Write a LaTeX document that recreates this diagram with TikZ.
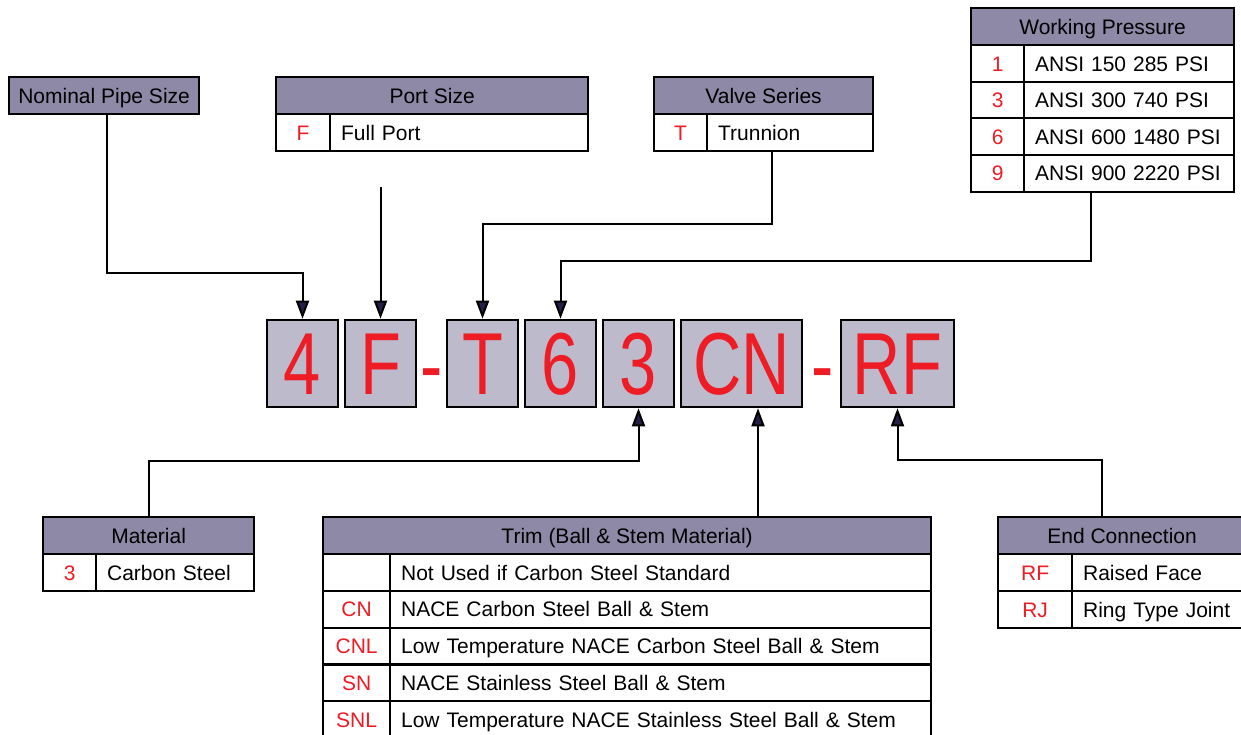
\documentclass[tikz,border=0pt]{standalone}
\usepackage{fontspec}
\usepackage{tikz}
\usepackage{xcolor}
\usetikzlibrary{arrows.meta,positioning,calc}
\setmainfont{Liberation Sans}
\newfontfamily\liberation{Liberation Sans}
\newfontfamily\narrowsans[FakeStretch=0.76]{Liberation Sans}
\newcommand\tablefont{\liberation\fontsize{10.5}{12}\selectfont}
\newcommand\codefont{\narrowsans\fontsize{44}{48}\selectfont}
\definecolor{HeadFill}{HTML}{8D89A6}
\definecolor{BoxFill}{HTML}{BDBACC}
\definecolor{CodeRed}{HTML}{EE1C25}
\definecolor{TipFill}{HTML}{231F46}

\tikzset{
  tab/.style={draw, line width=1.1pt, minimum height=18.4pt, inner sep=0pt,
    text height=7.5pt, text depth=0pt, font=\tablefont, anchor=north west},
  headcell/.style={tab, fill=HeadFill},
  keycell/.style={tab, fill=white, text=CodeRed},
  textcell/.style={tab, fill=white, align=left, inner xsep=5.5pt, text width=#1},
  codebox/.style={draw, line width=1.3pt, fill=BoxFill, text=CodeRed, font=\codefont,
    minimum height=43.5pt, inner sep=0pt, text height=31pt, text depth=0pt},
  codedash/.style={text=CodeRed, font=\codefont, inner sep=0pt, anchor=base},
  link/.style={line width=1pt, -{Triangle[width=6.5pt,length=9pt,fill=TipFill]}}
}

\begin{document}
\begin{tikzpicture}[x=0.5pt,y=-0.5pt]
  \useasboundingbox (0,0) rectangle (1241,734);

  % model code boxes
  \node[codebox, minimum width=35.5pt] (box4) at (302.5,363.5) {4};
  \node[codebox, minimum width=35.5pt] (boxF) at (380.5,363.5) {F};
  \node[codedash] (dash1) at (431.5,395) {-};
  \node[codebox, minimum width=35.5pt] (boxT) at (482.5,363.5) {T};
  \node[codebox, minimum width=35.5pt] (box6) at (560.5,363.5) {6};
  \node[codebox, minimum width=35.5pt] (box3) at (638.5,363.5) {3};
  \node[codebox, minimum width=60.5pt] (boxCN) at (741.5,363.5) {CN};
  \node[codedash] (dash2) at (822.5,395) {-};
  \node[codebox, minimum width=56.5pt] (boxRF) at (897.5,363.5) {RF};

  % nominal pipe size
  \node[headcell, minimum width=95pt] (npsHead) at (8,76) {Nominal Pipe Size};

  % port size
  \node[headcell, minimum width=156pt] (psHead) at (275,76) {Port Size};
  \node[keycell, minimum width=27pt] (psKey) at (275,113) {F};
  \node[textcell=118pt] (psVal) at (329,113) {Full Port};
  \coordinate (psFree) at (380.5,187);

  % valve series
  \node[headcell, minimum width=109.5pt] (vsHead) at (653,76) {Valve Series};
  \node[keycell, minimum width=26.5pt] (vsKey) at (653,113) {T};
  \node[textcell=72pt] (vsVal) at (706,113) {Trunnion};

  % working pressure
  \node[headcell, minimum width=131.5pt] (wpHead) at (970,7) {Working Pressure};
  \foreach \k/\v [count=\i] in {1/ANSI 150 285 PSI, 3/ANSI 300 740 PSI,
      6/ANSI 600 1480 PSI, 9/ANSI 900 2220 PSI} {
    \node[keycell, minimum width=26.5pt] (wpKey\i) at (970,{44+36.6*(\i-1)}) {\k};
    \node[textcell=94pt] (wpVal\i) at (1023,{44+36.6*(\i-1)}) {\v};
  }

  % material
  \node[headcell, minimum width=105.5pt] (matHead) at (42,516) {Material};
  \node[keycell, minimum width=26.5pt] (matKey) at (42,553) {3};
  \node[textcell=68pt] (matVal) at (95,553) {Carbon Steel};

  % trim
  \node[headcell, minimum width=304pt] (trimHead) at (322,516) {Trim (Ball \& Stem Material)};
  \foreach \k/\v [count=\i] in {{}/Not Used if Carbon Steel Standard,
      CN/NACE Carbon Steel Ball \& Stem,
      CNL/Low Temperature NACE Carbon Steel Ball \& Stem,
      SN/NACE Stainless Steel Ball \& Stem,
      SNL/Low Temperature NACE Stainless Steel Ball \& Stem} {
    \node[keycell, minimum width=33.5pt] (trimKey\i) at (322,{553+36.8*(\i-1)}) {\k};
    \node[textcell=259.5pt] (trimVal\i) at (389,{553+36.8*(\i-1)}) {\v};
  }

  % end connection (runs off the right edge)
  \node[headcell, minimum width=124pt] (endHead) at (997,516) {End Connection};
  \node[keycell, minimum width=37pt] (endKey1) at (997,553) {RF};
  \node[textcell=76pt] (endVal1) at (1071,553) {Raised Face};
  \node[keycell, minimum width=37pt] (endKey2) at (997,590) {RJ};
  \node[textcell=76pt] (endVal2) at (1071,590) {Ring Type Joint};

  % connectors
  \draw[link] (npsHead.south -| 107,0) |- (box4.north |- 0,273) -- (box4.north);
  \draw[link] (psFree) -- (boxF.north);
  \draw[link] (vsVal.south -| 772,0) |- (boxT.north |- 0,224) -- (boxT.north);
  \draw[link] (wpVal4.south -| 1091,0) |- (box6.north |- 0,261) -- (box6.north);
  \draw[link] (matHead.north) |- (box3.south |- 0,461) -- (box3.south);
  \draw[link] (trimHead.north -| 758,0) -- (boxCN.south -| 758,0);
  \draw[link] (endHead.north -| 1102,0) |- (boxRF.south |- 0,460) -- (boxRF.south);
\end{tikzpicture}
\end{document}
